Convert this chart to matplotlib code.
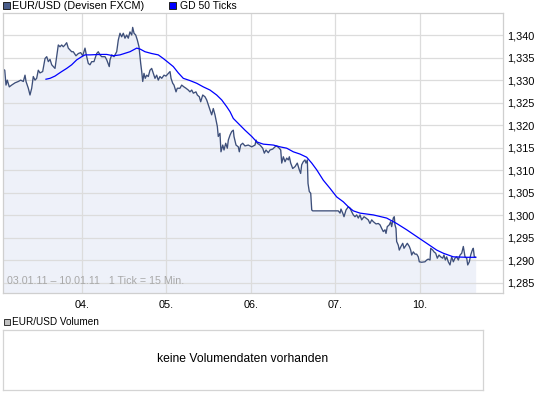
import matplotlib
matplotlib.use("Agg")
import matplotlib.pyplot as plt
from matplotlib.patches import Rectangle
from matplotlib.ticker import FuncFormatter

plt.rcParams['font.family'] = ['Liberation Sans', 'DejaVu Sans']

# ---- data: x = trading-day position (0 = 03.01., 1 = 04., ..., 5 = 10.01.)
price_day = [0.052, 0.088, 0.103, 0.118, 0.142, 0.170, 0.210, 0.249, 0.277, 0.308,
             0.328, 0.340, 0.355, 0.367, 0.387, 0.407, 0.426, 0.446, 0.466, 0.485,
             0.505, 0.537, 0.565, 0.585, 0.604, 0.624, 0.644, 0.663, 0.683, 0.703,
             0.722, 0.742, 0.762, 0.781, 0.801, 0.821, 0.840, 0.860, 0.880, 0.899,
             0.931, 0.959, 0.987, 1.011, 1.038, 1.058, 1.077, 1.097, 1.117, 1.144,
             1.176, 1.195, 1.215, 1.235, 1.275, 1.295, 1.325, 1.334, 1.354, 1.381,
             1.413, 1.432, 1.452, 1.472, 1.491, 1.511, 1.531, 1.550, 1.570, 1.591,
             1.602, 1.618, 1.638, 1.657, 1.677, 1.689, 1.697, 1.709, 1.721, 1.736,
             1.751, 1.768, 1.787, 1.807, 1.827, 1.846, 1.866, 1.886, 1.905, 1.925,
             1.946, 1.973, 1.996, 2.024, 2.044, 2.056, 2.076, 2.091, 2.115, 2.130,
             2.162, 2.182, 2.209, 2.233, 2.260, 2.280, 2.301, 2.320, 2.351, 2.367,
             2.391, 2.407, 2.431, 2.458, 2.478, 2.497, 2.517, 2.537, 2.556, 2.576,
             2.588, 2.604, 2.615, 2.635, 2.647, 2.668, 2.683, 2.703, 2.722, 2.734,
             2.754, 2.774, 2.793, 2.801, 2.825, 2.852, 2.864, 2.880, 2.904, 2.931,
             2.970, 3.011, 3.050, 3.062, 3.077, 3.109, 3.141, 3.160, 3.180, 3.207,
             3.227, 3.259, 3.286, 3.306, 3.337, 3.354, 3.366, 3.385, 3.405, 3.425,
             3.444, 3.456, 3.472, 3.496, 3.523, 3.550, 3.574, 3.590, 3.602, 3.621,
             3.641, 3.653, 3.669, 3.677, 3.692, 3.709, 3.721, 3.733, 4.035, 4.056,
             4.067, 4.088, 4.103, 4.127, 4.154, 4.174, 4.194, 4.213, 4.233, 4.253,
             4.272, 4.292, 4.312, 4.340, 4.363, 4.390, 4.410, 4.431, 4.450, 4.482,
             4.509, 4.529, 4.549, 4.568, 4.588, 4.600, 4.615, 4.639, 4.655, 4.667,
             4.686, 4.698, 4.706, 4.718, 4.726, 4.745, 4.757, 4.777, 4.798, 4.813,
             4.837, 4.852, 4.876, 4.892, 4.904, 4.923, 4.943, 4.963, 4.982, 4.994,
             5.022, 5.061, 5.082, 5.100, 5.121, 5.129, 5.153, 5.168, 5.188, 5.207,
             5.227, 5.247, 5.271, 5.286, 5.302, 5.318, 5.337, 5.357, 5.377, 5.397,
             5.416, 5.436, 5.456, 5.476, 5.496, 5.515, 5.535, 5.555, 5.567, 5.586,
             5.602, 5.621, 5.633, 5.645, 5.661]
price = [1.3326, 1.3322, 1.3289, 1.3300, 1.3285, 1.3289, 1.3294, 1.3297, 1.3300, 1.3297,
         1.3311, 1.3297, 1.3289, 1.3282, 1.3267, 1.3282, 1.3308, 1.3300, 1.3304, 1.3322,
         1.3316, 1.3319, 1.3348, 1.3352, 1.3341, 1.3346, 1.3334, 1.3330, 1.3326, 1.3352,
         1.3378, 1.3374, 1.3378, 1.3374, 1.3378, 1.3383, 1.3371, 1.3367, 1.3363, 1.3363,
         1.3354, 1.3359, 1.3361, 1.3354, 1.3371, 1.3352, 1.3337, 1.3334, 1.3341, 1.3341,
         1.3359, 1.3363, 1.3356, 1.3352, 1.3352, 1.3345, 1.3330, 1.3345, 1.3356, 1.3352,
         1.3363, 1.3389, 1.3404, 1.3396, 1.3404, 1.3393, 1.3400, 1.3393, 1.3407, 1.3400,
         1.3417, 1.3404, 1.3400, 1.3389, 1.3374, 1.3352, 1.3337, 1.3319, 1.3297, 1.3315,
         1.3304, 1.3311, 1.3308, 1.3322, 1.3326, 1.3315, 1.3304, 1.3311, 1.3300, 1.3308,
         1.3304, 1.3311, 1.3309, 1.3315, 1.3319, 1.3304, 1.3293, 1.3289, 1.3274, 1.3282,
         1.3282, 1.3289, 1.3285, 1.3282, 1.3278, 1.3274, 1.3278, 1.3271, 1.3274, 1.3267,
         1.3263, 1.3252, 1.3267, 1.3263, 1.3256, 1.3245, 1.3234, 1.3223, 1.3237, 1.3223,
         1.3212, 1.3197, 1.3175, 1.3182, 1.3141, 1.3156, 1.3145, 1.3160, 1.3149, 1.3167,
         1.3178, 1.3186, 1.3189, 1.3175, 1.3156, 1.3152, 1.3141, 1.3156, 1.3160, 1.3154,
         1.3156, 1.3152, 1.3156, 1.3167, 1.3160, 1.3156, 1.3149, 1.3138, 1.3145, 1.3139,
         1.3145, 1.3147, 1.3152, 1.3154, 1.3149, 1.3145, 1.3116, 1.3130, 1.3119, 1.3127,
         1.3123, 1.3130, 1.3116, 1.3104, 1.3108, 1.3116, 1.3101, 1.3093, 1.3112, 1.3119,
         1.3123, 1.3116, 1.3123, 1.3071, 1.3053, 1.3049, 1.3012, 1.3010, 1.3010, 1.3005,
         1.3014, 1.3005, 1.2997, 1.3012, 1.3019, 1.3016, 1.3008, 1.3001, 1.2997, 1.3001,
         1.2994, 1.3001, 1.2990, 1.2997, 1.2994, 1.2990, 1.2982, 1.2990, 1.2986, 1.2981,
         1.2982, 1.2979, 1.2971, 1.2964, 1.2968, 1.2960, 1.2975, 1.2979, 1.2986, 1.2975,
         1.2994, 1.2997, 1.2979, 1.2971, 1.2942, 1.2934, 1.2923, 1.2931, 1.2938, 1.2927,
         1.2934, 1.2938, 1.2931, 1.2923, 1.2912, 1.2919, 1.2914, 1.2914, 1.2908, 1.2897,
         1.2896, 1.2897, 1.2901, 1.2903, 1.2901, 1.2927, 1.2923, 1.2919, 1.2916, 1.2905,
         1.2912, 1.2908, 1.2905, 1.2912, 1.2901, 1.2908, 1.2897, 1.2890, 1.2908, 1.2897,
         1.2905, 1.2908, 1.2901, 1.2912, 1.2916, 1.2931, 1.2908, 1.2905, 1.2890, 1.2897,
         1.2912, 1.2923, 1.2927, 1.2908, 1.2907]

ma_day = [0.576, 0.624, 0.683, 0.722, 0.762, 0.821, 0.880, 0.940, 0.999, 1.038,
          1.097, 1.215, 1.295, 1.373, 1.452, 1.570, 1.650, 1.689, 1.748, 1.827,
          1.905, 1.964, 2.024, 2.083, 2.142, 2.201, 2.280, 2.360, 2.438, 2.517,
          2.596, 2.656, 2.715, 2.754, 2.793, 2.931, 3.011, 3.070, 3.148, 3.266,
          3.346, 3.425, 3.503, 3.582, 3.661, 3.721, 3.780, 3.858, 3.937, 4.016,
          4.095, 4.154, 4.213, 4.292, 4.450, 4.608, 4.726, 4.845, 4.963, 5.082,
          5.200, 5.278, 5.397, 5.555, 5.661]
ma = [1.3302, 1.3304, 1.3309, 1.3314, 1.3319, 1.3326, 1.3334, 1.3345, 1.3352, 1.3356,
      1.3356, 1.3357, 1.3357, 1.3354, 1.3356, 1.3363, 1.3371, 1.3369, 1.3363, 1.3359,
      1.3356, 1.3348, 1.3339, 1.3330, 1.3316, 1.3304, 1.3299, 1.3293, 1.3285, 1.3278,
      1.3267, 1.3256, 1.3241, 1.3230, 1.3215, 1.3189, 1.3175, 1.3163, 1.3158, 1.3156,
      1.3152, 1.3149, 1.3141, 1.3136, 1.3129, 1.3116, 1.3101, 1.3078, 1.3060, 1.3041,
      1.3030, 1.3019, 1.3010, 1.3005, 1.3001, 1.2994, 1.2982, 1.2968, 1.2953, 1.2938,
      1.2923, 1.2916, 1.2908, 1.2907, 1.2907]

day_ticks = [1, 2, 3, 4, 5]
day_labels = ["04.", "05.", "06.", "07.", "10."]
y_ticks = [1.285, 1.290, 1.295, 1.300, 1.305, 1.310, 1.315, 1.320, 1.325, 1.330, 1.335, 1.340]

LINE = "#3d4f7a"
FILL = "#eef1f9"
GRID = "#dcdcdc"

W, H = 545, 398
fig = plt.figure(figsize=(W / 100, H / 100), dpi=100)

def frac(x0, y0, x1, y1):
    return [x0 / W, 1 - y1 / H, (x1 - x0) / W, (y1 - y0) / H]

ax = fig.add_axes(frac(3, 13, 503, 293))
xmin, xmax = 0.0675, 5.9845
ymin, ymax = 1.28278, 1.34489
ax.fill_between(price_day, price, ymin, color=FILL, lw=0, zorder=0.3)
ax.plot(price_day, price, color=LINE, lw=0.95, zorder=2)
ax.plot(ma_day, ma, color="#0000ff", lw=0.9, zorder=2.1)
ax.set_xlim(xmin, xmax)
ax.set_ylim(ymin, ymax)
ax.set_xticks(day_ticks)
ax.set_xticklabels(day_labels)
ax.set_yticks(y_ticks)
ax.yaxis.set_major_formatter(FuncFormatter(lambda v, p: f"{v:.3f}".replace(".", ",")))
ax.yaxis.tick_right()
ax.tick_params(axis="both", length=0, labelsize=7.8, colors="black")
ax.tick_params(axis="x", pad=5)
ax.tick_params(axis="y", pad=3.2)
ax.set_axisbelow(True)
ax.grid(True, color=GRID, lw=0.9)
for s in ax.spines.values():
    s.set_color("#cfcfcf")
    s.set_linewidth(0.9)
ax.text(0.008, 0.025, "03.01.11 \u2013 10.01.11   1 Tick = 15 Min.", transform=ax.transAxes,
        fontsize=7.7, color="#a8a8a8", ha="left", va="bottom")

# volume panel
ax2 = fig.add_axes(frac(2.5, 329.5, 483, 389.5))
ax2.set_xticks([])
ax2.set_yticks([])
for s in ax2.spines.values():
    s.set_color("#d4d4d4")
    s.set_linewidth(0.9)
ax2.text(0.5, 0.5, "keine Volumendaten vorhanden", transform=ax2.transAxes,
         ha="center", va="center", fontsize=8.7, color="black")

# legend overlay in pixel space
ov = fig.add_axes([0, 0, 1, 1], zorder=10)
ov.set_xlim(0, W)
ov.set_ylim(H, 0)
ov.axis("off")
ov.add_patch(Rectangle((3, 2), 6.5, 6.5, facecolor="#4a5d8a", edgecolor="#222222", lw=0.7))
ov.text(11.5, 5.8, "EUR/USD (Devisen FXCM)", fontsize=7.85, va="center", ha="left")
ov.add_patch(Rectangle((169, 2), 6.5, 6.5, facecolor="#0000ff", edgecolor="#222222", lw=0.7))
ov.text(180, 5.8, "GD 50 Ticks", fontsize=7.5, va="center", ha="left")
ov.add_patch(Rectangle((3.5, 318.5), 6, 6, facecolor="#c0c0c0", edgecolor="#333333", lw=0.7))
ov.text(11.5, 321.8, "EUR/USD Volumen", fontsize=7.2, va="center", ha="left")

fig.savefig("out.png", dpi=100, facecolor="white")
